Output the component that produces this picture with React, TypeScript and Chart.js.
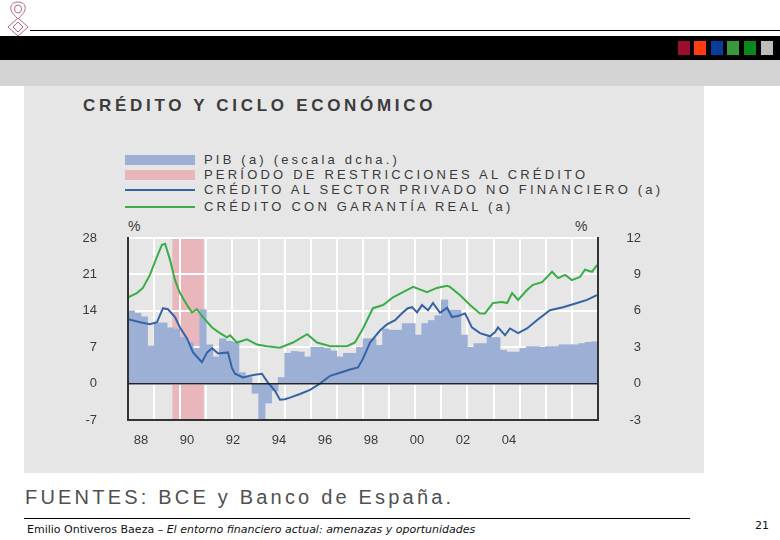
import React, { useEffect, useRef } from 'react';
import { Chart, registerables } from 'chart.js';

Chart.register(...registerables);

// ---------------- DATA ----------------
const chartTitle = 'CRÉDITO Y CICLO ECONÓMICO';
const legendLabels = [
  'PIB (a) (escala dcha.)',
  'PERÍODO DE RESTRICCIONES AL CRÉDITO',
  'CRÉDITO AL SECTOR PRIVADO NO FINANCIERO (a)',
  'CRÉDITO CON GARANTÍA REAL (a)',
];
const sourceText = 'FUENTES: BCE y Banco de España.';

// PIB, quarterly, 1988 Q1 .. 2005 Q4 (right scale, %)
const pibFirstYear = 1988;
const pibValues = [
  6.0, 5.8, 5.5, 3.1, 5.0, 5.0, 4.6, 4.5, 3.8, 3.4,
  2.9, 6.1, 3.2, 2.2, 3.7, 3.5, 3.4, 0.9, 0.5, -0.8,
  -3.0, -1.6, -0.6, 0.5, 2.5, 2.65, 2.6, 2.2, 3.0, 3.0,
  2.9, 2.7, 2.2, 2.5, 2.5, 3.0, 3.7, 3.7, 3.15, 4.5,
  4.4, 4.4, 4.95, 4.95, 4.0, 4.95, 5.2, 5.6, 6.9, 6.05,
  6.05, 4.0, 3.0, 3.3, 3.3, 3.8, 3.8, 2.75, 2.6, 2.6,
  2.9, 3.05, 3.05, 3.0, 3.05, 3.05, 3.2, 3.2, 3.2, 3.3,
  3.4, 3.45,
];

// Crédito al sector privado no financiero (left scale, %)
const creditYears = [
  1988.0, 1988.46, 1988.84, 1989.11, 1989.34, 1989.53, 1989.8, 1989.99, 1990.26, 1990.49,
  1990.83, 1991.03, 1991.22, 1991.45, 1991.83, 1991.98, 1992.1, 1992.4, 1992.67, 1992.86,
  1993.13, 1993.36, 1993.63, 1993.82, 1994.01, 1994.2, 1994.59, 1994.97, 1995.35, 1995.74,
  1996.12, 1996.5, 1996.81, 1997.0, 1997.27, 1997.65, 1997.92, 1998.23, 1998.53, 1998.72,
  1998.88, 1999.07, 1999.26, 1999.49, 1999.68, 1999.95, 2000.22, 2000.41, 2000.64, 2000.91,
  2001.17, 2001.48, 2001.86, 2002.06, 2002.17, 2002.44, 2002.63, 2002.94, 2003.28, 2003.66,
  2004.16, 2004.66, 2005.2, 2005.58, 2005.96,
];
const creditValues = [
  12.4, 11.8, 11.4, 11.8, 14.5, 14.3, 12.8, 10.8, 8.7, 6.0,
  4.1, 6.0, 6.8, 5.8, 6.0, 3.0, 1.9, 1.2, 1.5, 1.7,
  1.9, 0.2, -1.4, -3.1, -3.0, -2.7, -2.0, -1.2, 0.0, 1.5,
  2.1, 2.7, 3.1, 4.8, 7.9, 10.2, 11.4, 12.2, 13.7, 14.5,
  14.7, 13.7, 15.1, 14.1, 15.5, 13.6, 14.6, 12.8, 13.0, 13.5,
  10.8, 9.7, 9.1, 9.9, 10.8, 9.3, 10.6, 9.7, 10.6, 12.2,
  14.1, 14.7, 15.5, 16.1, 17.0,
];

// Crédito con garantía real (left scale, %)
const mortgageYears = [
  1988.0, 1988.34, 1988.57, 1988.84, 1989.11, 1989.3, 1989.42, 1989.61, 1989.8, 1989.99,
  1990.26, 1990.45, 1990.64, 1990.87, 1991.22, 1991.52, 1991.79, 1991.91, 1992.17, 1992.56,
  1992.94, 1993.32, 1993.82, 1994.32, 1994.86, 1995.24, 1995.74, 1996.39, 1996.69, 1997.0,
  1997.38, 1997.77, 1998.15, 1998.53, 1998.92, 1999.45, 1999.83, 2000.22, 2000.33, 2000.72,
  2001.1, 2001.48, 2001.67, 2001.98, 2002.32, 2002.52, 2002.71, 2002.94, 2003.28, 2003.51,
  2003.86, 2004.24, 2004.47, 2004.74, 2005.0, 2005.31, 2005.5, 2005.77, 2005.96,
];
const mortgageValues = [
  16.6, 17.4, 18.4, 20.9, 24.4, 26.7, 26.9, 23.8, 19.9, 17.4,
  15.1, 13.7, 14.3, 12.8, 10.8, 9.7, 8.9, 9.3, 7.9, 8.5,
  7.5, 7.2, 6.9, 7.9, 9.5, 7.9, 7.2, 7.2, 7.9, 10.6,
  14.5, 15.1, 16.6, 17.6, 18.6, 17.6, 18.4, 18.8, 18.6, 17.0,
  15.1, 13.5, 13.5, 15.5, 15.7, 15.5, 17.4, 16.1, 18.0, 19.0,
  19.5, 21.5, 20.3, 20.9, 19.9, 20.5, 21.9, 21.5, 22.8,
];

// Período de restricciones al crédito
const restrictionStarts = [1989.7];
const restrictionEnds = [1990.9];

// Axes
const xMinYear = 1988;
const xMaxYear = 2006;
const xTickLabels = ['88', '90', '92', '94', '96', '98', '00', '02', '04'];
const leftTicks = [-7, 0, 7, 14, 21, 28];
const rightTicks = [-3, 0, 3, 6, 9, 12];

// ---------------- STYLE ----------------
const BAR_BLUE = '#9cb0d6';
const PINK = '#e8b6bb';
const LINE_BLUE = '#3563a6';
const LINE_GREEN = '#3aad47';
const PANEL = '#e6e6e6';
const TEXT = '#3a3a3a';
const FONT = "'Liberation Sans', Arial, sans-serif";

const periodsPlugin = {
  id: 'restrictionPeriods',
  beforeDraw(chart: any) {
    const { ctx, chartArea, scales } = chart;
    const x = scales.x;
    ctx.save();
    ctx.fillStyle = PINK;
    restrictionStarts.forEach((s, i) => {
      const x1 = x.getPixelForValue(s);
      const x2 = x.getPixelForValue(restrictionEnds[i]);
      ctx.fillRect(x1, chartArea.top, x2 - x1, chartArea.bottom - chartArea.top);
    });
    ctx.restore();
  },
};

function CreditChart() {
  const ref = useRef<HTMLCanvasElement | null>(null);
  useEffect(() => {
    if (!ref.current) return;
    const pibData = pibValues.map((v, i) => ({ x: pibFirstYear + (i + 0.5) / 4, y: v }));
    const creditData = creditYears.map((x, i) => ({ x, y: creditValues[i] }));
    const mortgageData = mortgageYears.map((x, i) => ({ x, y: mortgageValues[i] }));
    const tickFont = { family: FONT, size: 13 };
    const chart = new Chart(ref.current, {
      type: 'bar',
      data: {
        datasets: [
          {
            type: 'line',
            label: legendLabels[3],
            data: mortgageData,
            borderColor: LINE_GREEN,
            borderWidth: 2,
            pointRadius: 0,
            tension: 0,
            yAxisID: 'y',
            order: 0,
          },
          {
            type: 'line',
            label: legendLabels[2],
            data: creditData,
            borderColor: LINE_BLUE,
            borderWidth: 2,
            pointRadius: 0,
            tension: 0,
            yAxisID: 'y',
            order: 1,
          },
          {
            type: 'bar',
            label: legendLabels[0],
            data: pibData,
            backgroundColor: BAR_BLUE,
            borderWidth: 0,
            barPercentage: 1,
            categoryPercentage: 1,
            yAxisID: 'y1',
            order: 2,
          },
        ] as any,
      },
      options: {
        animation: false,
        responsive: false,
        maintainAspectRatio: false,
        layout: { padding: { top: 23, left: 0, right: 63, bottom: 0 } },
        plugins: { legend: { display: false }, tooltip: { enabled: false }, title: { display: false } },
        scales: {
          x: {
            type: 'linear',
            position: 'bottom',
            offset: false,
            min: xMinYear,
            max: xMaxYear,
            weight: 0,
            grid: { color: '#ffffff', lineWidth: 2, drawTicks: false, offset: false },
            border: { display: true, color: '#333333', width: 2, z: 1 },
            ticks: { display: false, stepSize: 1 },
            afterFit: (a: any) => { a.height = 0; },
          },
          x2: {
            type: 'linear',
            position: 'bottom',
            offset: false,
            min: -13 / 46,
            max: 470 / 46 - 13 / 46,
            weight: 1,
            grid: { display: false, drawTicks: false, offset: false },
            border: { display: false },
            afterBuildTicks: (a: any) => { a.ticks = xTickLabels.map((_, i) => ({ value: i })); },
            ticks: {
              autoSkip: false,
              maxRotation: 0,
              padding: 13,
              color: TEXT,
              font: tickFont,
              callback: (v: any) => xTickLabels[v] ?? '',
            },
            afterFit: (a: any) => { a.height = 45; a.paddingLeft = 0; a.paddingRight = 0; },
          },
          y: {
            type: 'linear',
            position: 'left',
            min: leftTicks[0],
            max: leftTicks[leftTicks.length - 1],
            afterBuildTicks: (a: any) => { a.ticks = leftTicks.map((v) => ({ value: v })); },
            grid: { color: '#ffffff', lineWidth: 2, drawTicks: false },
            border: { display: true, color: '#333333', width: 2, z: 1 },
            ticks: { padding: 31, color: TEXT, font: tickFont },
            afterFit: (a: any) => { a.width = 104; a.paddingTop = 0; a.paddingBottom = 0; },
          },
          y1: {
            type: 'linear',
            position: 'right',
            min: rightTicks[0],
            max: rightTicks[rightTicks.length - 1],
            afterBuildTicks: (a: any) => { a.ticks = rightTicks.map((v) => ({ value: v })); },
            grid: {
              z: 1,
              drawTicks: false,
              lineWidth: 1.5,
              color: (c: any) => (c.tick && c.tick.value === 0 ? '#222222' : 'rgba(0,0,0,0)'),
            },
            border: { display: true, color: '#333333', width: 2, z: 1 },
            ticks: { padding: 20, color: TEXT, font: tickFont, crossAlign: 'far' },
            afterFit: (a: any) => { a.width = 43; a.paddingTop = 0; a.paddingBottom = 0; },
          },
        },
      } as any,
      plugins: [periodsPlugin],
    });
    return () => chart.destroy();
  }, []);
  return <canvas ref={ref} width={680} height={250} style={{ position: 'absolute', left: 24, top: 215, width: 680, height: 250 }} />;
}

const abs = (l: number, t: number, extra: React.CSSProperties = {}): React.CSSProperties => ({
  position: 'absolute',
  left: l,
  top: t,
  whiteSpace: 'nowrap',
  ...extra,
});

const squareColors = ['#9a0d2c', '#ff3b0f', '#0a3c9c', '#3a9a3a', '#0a8a1a', '#bdbdbd'];
const squareLefts = [678, 694, 711, 727, 744, 761];

export default function App() {
  const legendTop = [160, 175, 190, 207];
  return (
    <div style={{ position: 'absolute', left: 0, top: 0, width: 780, height: 540, background: '#ffffff', overflow: 'hidden', fontFamily: FONT }}>
      {/* logo */}
      <svg style={abs(3, 0)} width={30} height={38} viewBox="0 0 30 38">
        <g fill="none" stroke="#b4668a" strokeWidth={1}>
          <path d="M15 2 C9 2 7 6 8 10 C9 13 12 16 15 19 C18 16 21 13 22 10 C23 6 21 2 15 2 Z" />
          <ellipse cx={15} cy={9} rx={3.5} ry={4} />
          <path d="M15 18 L25 27 L15 36 L5 27 Z" />
          <path d="M15 22 L20 27 L15 32 L10 27 Z" />
        </g>
      </svg>
      <div style={abs(30, 30, { width: 750, height: 1, background: '#000' })} />
      <div style={abs(0, 36, { width: 780, height: 24, background: '#000' })} />
      {squareColors.map((c, i) => (
        <div key={i} style={abs(squareLefts[i], 41, { width: 12, height: 14, background: c })} />
      ))}
      <div style={abs(0, 60, { width: 780, height: 26, background: '#d4d4d4' })} />
      {/* chart panel */}
      <div style={abs(24, 86, { width: 680, height: 387, background: PANEL })} />
      <div style={abs(83, 96, { fontSize: 17, fontWeight: 700, color: '#3c3c3c', letterSpacing: 3.7, lineHeight: '20px' })}>{chartTitle}</div>
      {/* legend */}
      <div style={abs(125, 155, { width: 70, height: 10, background: BAR_BLUE })} />
      <div style={abs(125, 170, { width: 70, height: 10, background: PINK })} />
      <div style={abs(125, 189, { width: 70, height: 1.6, background: LINE_BLUE })} />
      <div style={abs(125, 206, { width: 70, height: 1.6, background: LINE_GREEN })} />
      {legendLabels.map((t, i) => (
        <div key={t} style={abs(204, legendTop[i] - 8, { fontSize: 13, lineHeight: '16px', color: TEXT, letterSpacing: 3.2 })}>{t}</div>
      ))}
      <div style={abs(128, 218, { fontSize: 14, lineHeight: '16px', color: TEXT, letterSpacing: 2 })}>%</div>
      <div style={abs(575, 218, { fontSize: 14, lineHeight: '16px', color: TEXT, letterSpacing: 2 })}>%</div>
      <CreditChart />
      <div style={abs(25, 486, { fontSize: 20, lineHeight: '22px', color: '#505050', letterSpacing: 3.2 })}>{sourceText}</div>
      <div style={abs(24, 518, { width: 666, height: 1, background: '#000' })} />
      <div style={abs(27, 523, { fontSize: 11, lineHeight: '14px', color: '#111', fontFamily: "'DejaVu Sans', sans-serif" })}>
        Emilio Ontiveros Baeza – <i>El entorno financiero actual: amenazas y oportunidades</i>
      </div>
      <div style={abs(755, 519, { fontSize: 11, lineHeight: '14px', color: '#111', fontFamily: "'DejaVu Sans', sans-serif" })}>21</div>
    </div>
  );
}
